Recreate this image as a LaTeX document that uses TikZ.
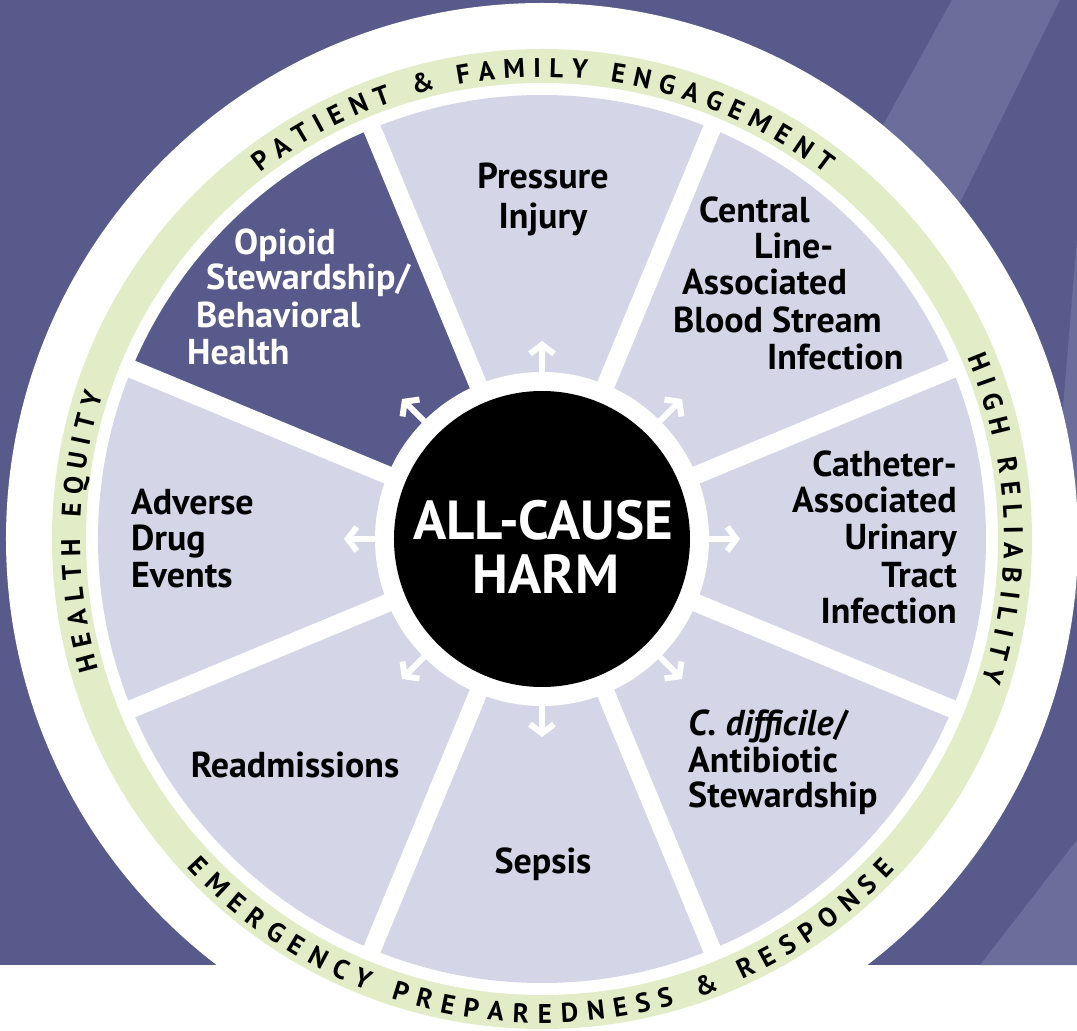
\documentclass[tikz,border=0pt]{standalone}
\usepackage{fontspec}
\setmainfont{PT Sans}
\usetikzlibrary{arrows.meta,decorations.text}

\definecolor{wheelbg}{HTML}{585A8B}
\definecolor{wheelband}{HTML}{6B6D9A}
\definecolor{wheelseg}{HTML}{D4D5E7}
\definecolor{wheelring}{HTML}{E2EDC7}

\newcommand\segfont{\fontsize{36}{38}\selectfont\bfseries}
\newcommand\ringfont{\fontsize{27}{29}\selectfont\bfseries}
\newcommand\hubfont{\fontsize{55}{56}\selectfont\bfseries}

\tikzset{
  seg/.style={font=\segfont, inner sep=0pt},
  segw/.style={seg, text=white},
  hub/.style={font=\hubfont, text=white, inner sep=0pt, anchor=base},
  spoke/.style={white, line width=6pt, -{Straight Barb[length=9pt,width=24pt]}},
  ringtext/.style={decorate, decoration={text along path, text align={fit to path}, text={|\ringfont|#1}}}
}

\begin{document}
\begin{tikzpicture}[x=1pt,y=1pt]
		\useasboundingbox (-542,-492) rectangle (535,539);
		\clip (-542,-492) rectangle (535,539);
		%%%%% BACKDROP %%%%%
		\fill[white] (-542,-492) rectangle (535,539);
		\fill[wheelbg] (-542,-426) rectangle (535,539);
		\fill[wheelband] (410,539) -- (518,539) -- (286,69) -- (151,69) -- cycle;
		\fill[wheelband] (438,-426) -- (535,-301) -- (535,-426) -- cycle;
		\fill[wheelband] (535,300) -- (535,-60) -- (505,-60) -- cycle;
		
		%%%%% RINGS %%%%%
		\fill[white] (0,0) circle (536);
		\fill[wheelring] (0,0) circle (490);
		\fill[white] (0,0) circle (456);
		\fill[wheelseg] (0,0) circle (444);
		\fill[wheelbg] (0,0) -- (112.5:444) arc (112.5:157.5:444) -- cycle;
		
		% gaps between the segments
		\foreach \a in {22.5,67.5,...,337.5}
			\draw[white, line width=18pt] (0,0) -- (\a:447);
		
		\fill[white] (0,0) circle (167);
		\fill[black] (0,0) circle (148);
		
		% arrows out of the hub
		\foreach \a [count=\i] in {0,45,...,315}{
			\coordinate (s\i) at (\a:166);
			\coordinate (t\i) at (\a:198);
			\draw[spoke] (s\i) -- (t\i);
		}
		
		%%%%% RING LABELS %%%%%
		\path[ringtext={PATIENT {\&} FAMILY ENGAGEMENT}] (127.6:462) arc (127.6:52.2:462);
		\path[ringtext={HIGH RELIABILITY}] (23.1:462) arc (23.1:-17.8:462);
		\path[ringtext={HEALTH EQUITY}] (196.4:462) arc (196.4:161.7:462);
		\path[ringtext={EMERGENCY PREPAREDNESS {\&} RESPONSE}] (222.8:484) arc (222.8:316.9:484);
		
		%%%%% HUB %%%%%
		\node[hub] (hub1) at (1,-1) {ALL-CAUSE};
		\node[hub] (hub2) at (4,-54) {HARM};
		
		%%%%% SEGMENTS %%%%%
		\node[seg, anchor=base] (pi1) at (1,350) {Pressure};
		\node[seg, anchor=base] (pi2) at (1,310) {Injury};
		
		\node[seg, anchor=base west] (cl1) at (157,316) {Central};
		\node[seg, anchor=base west] (cl2) at (212,280) {Line-};
		\node[seg, anchor=base west] (cl3) at (140,244) {Associated};
		\node[seg, anchor=base west] (cl4) at (131,206) {Blood Stream};
		\node[seg, anchor=base west] (cl5) at (225,169) {Infection};
		
		\node[seg, anchor=base east] (ca1) at (415,62) {Catheter-};
		\node[seg, anchor=base east] (ca2) at (415,26) {Associated};
		\node[seg, anchor=base east] (ca3) at (415,-11) {Urinary};
		\node[seg, anchor=base east] (ca4) at (415,-48) {Tract};
		\node[seg, anchor=base east] (ca5) at (415,-84) {Infection};
		
		\node[seg, anchor=base west] (cd1) at (146,-196) {\textit{C. difficile}/};
		\node[seg, anchor=base west] (cd2) at (146,-233) {Antibiotic};
		\node[seg, anchor=base west] (cd3) at (146,-268) {Stewardship};
		
		\node[seg, anchor=base] (sep) at (1,-334) {Sepsis};
		
		\node[seg, anchor=base] (rea) at (-247,-238) {Readmissions};
		
		\node[seg, anchor=base west] (ad1) at (-411,24) {Adverse};
		\node[seg, anchor=base west] (ad2) at (-411,-12) {Drug};
		\node[seg, anchor=base west] (ad3) at (-411,-48) {Events};
		
		\node[segw, anchor=base west] (op1) at (-308,284) {Opioid};
		\node[segw, anchor=base west] (op2) at (-336,249) {Stewardship/};
		\node[segw, anchor=base west] (op3) at (-346,211) {Behavioral};
		\node[segw, anchor=base west] (op4) at (-355,174) {Health};
	\end{tikzpicture}
\end{document}
